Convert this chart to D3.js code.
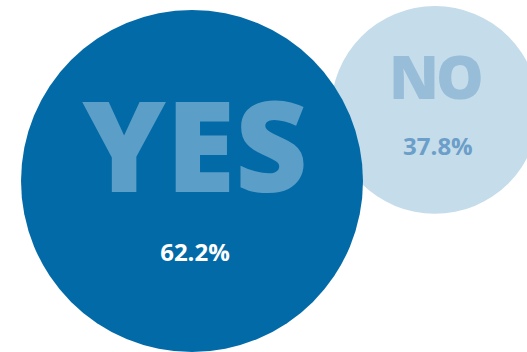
<!DOCTYPE html>
<html>
<head>
<meta charset="utf-8">
<script src="https://cdn.jsdelivr.net/npm/d3@7"></script>
<style>
  html, body { margin: 0; padding: 0; background: #fff; }
  text { font-family: "Open Sans", sans-serif; font-weight: 700; }
  text.word { font-weight: 800; }
</style>
</head>
<body>
<div id="chart"></div>
<script>
// Data
var answers = ["YES", "NO"];
var shares = [62.2, 37.8];
var shareLabels = ["62.2%", "37.8%"];

var svgWidth = 527;
var svgHeight = 352;

var svg = d3.select("#chart")
  .append("svg")
  .attr("width", svgWidth)
  .attr("height", svgHeight);

// radius grows linearly with the share
var rScale = d3.scaleLinear()
  .domain([0, d3.max(shares)])
  .range([0, 171]);

var rows = answers.map(function (a, i) {
  return { answer: a, share: shares[i], label: shareLabels[i], r: rScale(shares[i]) };
});

// layout: big circle on the left, small one overlapping on its upper right
var big = rows[0], small = rows[1];
big.cx = 21 + big.r;
big.cy = 10 + big.r;
small.cx = big.cx + big.r + small.r - 32;
small.cy = 6 + small.r;

// styles per answer
big.fill = "#036aa8"; big.wordColor = "#5b9ec7"; big.numColor = "#ffffff";
big.wordSize = 126; big.wordDy = 11; big.wordDx = 3; big.spacing = 0;
big.numSize = 24; big.numDy = 80;
small.fill = "#c5dcea"; small.wordColor = "#98bdd8"; small.numColor = "#6b9ec8";
small.wordSize = 60; small.wordDy = -11; small.wordDx = 0; small.spacing = -3;
small.numSize = 24; small.numDy = 45;

// draw small first so the big circle sits on top
var order = [small, big];

var groups = svg.selectAll("g.bubble")
  .data(order)
  .enter()
  .append("g")
  .attr("class", "bubble");

groups.append("circle")
  .attr("cx", d => d.cx)
  .attr("cy", d => d.cy)
  .attr("r", d => d.r)
  .attr("fill", d => d.fill);

groups.append("text")
  .attr("class", "word")
  .attr("x", d => d.cx + d.wordDx)
  .attr("y", d => d.cy + d.wordDy)
  .attr("text-anchor", "middle")
  .attr("font-size", d => d.wordSize + "px")
  .attr("letter-spacing", d => d.spacing)
  .attr("fill", d => d.wordColor)
  .text(d => d.answer);

groups.append("text")
  .attr("x", d => d.cx + 3)
  .attr("y", d => d.cy + d.numDy)
  .attr("text-anchor", "middle")
  .attr("font-size", d => d.numSize + "px")
  .attr("fill", d => d.numColor)
  .text(d => d.label);
</script>
</body>
</html>
